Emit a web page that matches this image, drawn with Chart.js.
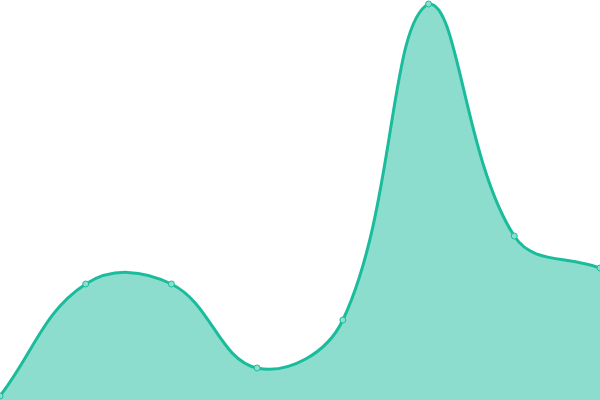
<!DOCTYPE html>
<html>
<head>
<meta charset="utf-8">
<script src="https://cdn.jsdelivr.net/npm/chart.js@4"></script>
<style>
html,body{margin:0;padding:0;background:#fff;}
#wrap{width:600px;height:400px;}
</style>
</head>
<body>
<div id="wrap"><canvas id="c"></canvas></div>
<script>
const labels = ["1","2","3","4","5","6","7","8"];
const values = [1, 29, 29, 8, 20, 99, 41, 33];
const yMin = 0;
const yMax = 100;

new Chart(document.getElementById('c'), {
  type: 'line',
  data: {
    labels: labels,
    datasets: [{
      data: values,
      fill: true,
      backgroundColor: 'rgba(26,188,156,0.5)',
      borderColor: '#1abc9c',
      borderWidth: 3,
      tension: 0.4,
      pointRadius: 3,
      pointBorderWidth: 1,
      pointBackgroundColor: 'rgb(141,222,206)',
      pointBorderColor: '#1abc9c'
    }]
  },
  options: {
    responsive: true,
    maintainAspectRatio: false,
    animation: false,
    layout: { padding: 0, autoPadding: false },
    plugins: { legend: { display: false }, tooltip: { enabled: false } },
    scales: {
      x: { display: false },
      y: { display: false, min: yMin, max: yMax }
    }
  }
});
</script>
</body>
</html>
